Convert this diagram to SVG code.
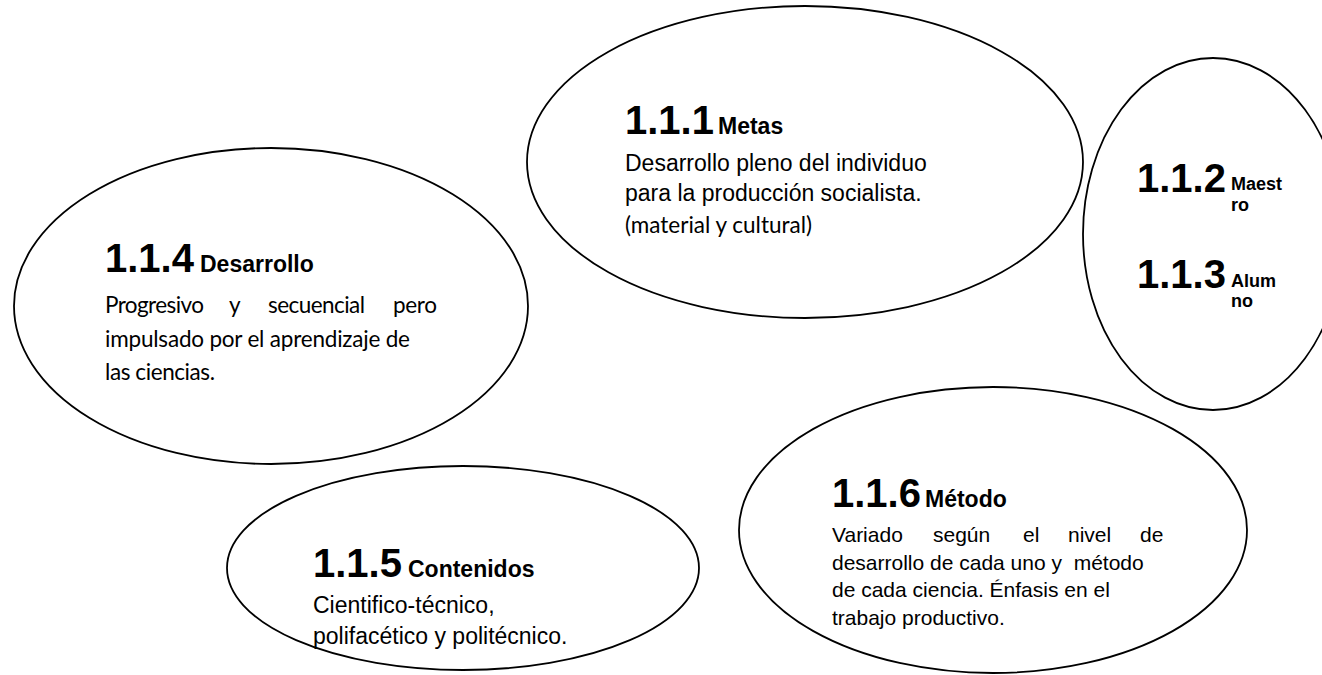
<svg xmlns="http://www.w3.org/2000/svg" width="1322" height="675" viewBox="0 0 1322 675">
<style>
.sh{fill:#fff;stroke:#000;stroke-width:1.8}
.num{font-family:"Liberation Sans",Arial,sans-serif;font-weight:bold;font-size:40px;fill:#000}
.hd{font-family:"Liberation Sans",Arial,sans-serif;font-weight:bold;font-size:23px;fill:#000}
.sm{font-family:"Liberation Sans",Arial,sans-serif;font-weight:bold;font-size:18px;fill:#000}
.b{font-family:"Liberation Sans",Arial,sans-serif;font-size:23px;fill:#000}
.b21{font-family:"Liberation Sans",Arial,sans-serif;font-size:21px;fill:#000}
.cal{font-family:Lato,"Noto Sans",sans-serif;font-size:22.5px;fill:#000}
</style>
<rect width="1322" height="675" fill="#fff"/>
<g id="connectors"></g>
<g id="metas">
<ellipse class="sh" cx="805" cy="162" rx="278" ry="156"/>
<text class="num" x="625" y="134">1.1.1</text>
<text class="hd" x="718" y="134">Metas</text>
<text class="b" x="625" y="171">Desarrollo pleno del individuo</text>
<text class="b" x="625" y="201">para la producción socialista.</text>
<text class="cal" x="625" y="233" textLength="187">(material y cultural)</text>
</g>
<g id="maestro-alumno">
<ellipse class="sh" cx="1213" cy="234" rx="130" ry="176"/>
<text class="num" x="1137" y="192">1.1.2</text>
<text class="sm" x="1231" y="190">Maest</text>
<text class="sm" x="1231" y="211">ro</text>
<text class="num" x="1137" y="288">1.1.3</text>
<text class="sm" x="1231" y="287">Alum</text>
<text class="sm" x="1231" y="307">no</text>
</g>
<g id="desarrollo">
<ellipse class="sh" cx="271" cy="306" rx="257" ry="158"/>
<text class="num" x="105" y="272">1.1.4</text>
<text class="hd" x="200" y="272">Desarrollo</text>
<text class="cal" y="313"><tspan x="105" textLength="99">Progresivo</tspan><tspan x="229" textLength="11">y</tspan><tspan x="268" textLength="97">secuencial</tspan><tspan x="393" textLength="44">pero</tspan></text>
<text class="cal" x="105" y="347" textLength="305">impulsado por el aprendizaje de</text>
<text class="cal" x="105" y="380" textLength="110">las ciencias.</text>
</g>
<g id="contenidos">
<ellipse class="sh" cx="463" cy="568" rx="236" ry="102"/>
<text class="num" x="313" y="577">1.1.5</text>
<text class="hd" x="408" y="577">Contenidos</text>
<text class="b" x="313" y="613">Cientifico-técnico,</text>
<text class="b" x="313" y="644">polifacético y politécnico.</text>
</g>
<g id="metodo">
<ellipse class="sh" cx="993" cy="530" rx="254" ry="143"/>
<text class="num" x="832" y="507">1.1.6</text>
<text class="hd" x="925" y="507">Método</text>
<text class="b21" y="542"><tspan x="832">Variado</tspan><tspan x="933">según</tspan><tspan x="1023">el</tspan><tspan x="1068">nivel</tspan><tspan x="1140">de</tspan></text>
<text class="b21" x="832" y="570" xml:space="preserve">desarrollo de cada uno y  método</text>
<text class="b21" x="832" y="597">de cada ciencia. Énfasis en el</text>
<text class="b21" x="832" y="625">trabajo productivo.</text>
</g>
</svg>
